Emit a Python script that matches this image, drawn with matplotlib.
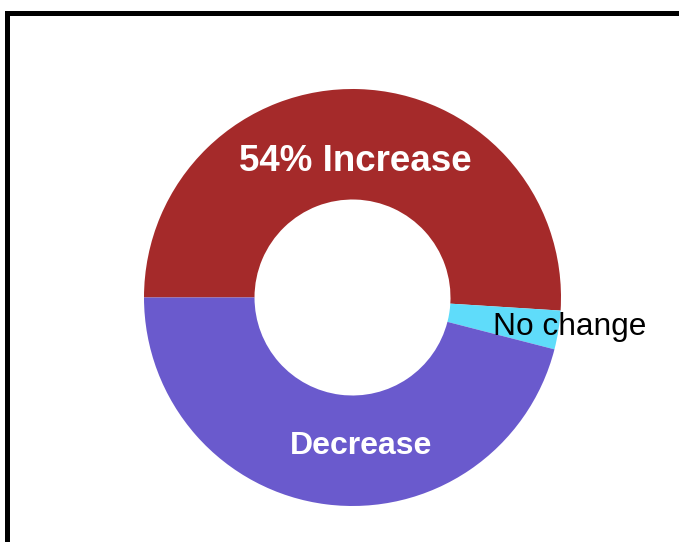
import matplotlib
matplotlib.use("Agg")
import matplotlib.pyplot as plt
from matplotlib.patches import Rectangle

plt.rcParams['font.family'] = ['Liberation Sans', 'DejaVu Sans']

# slice shares
labels = ["Increase", "No change", "Decrease"]
values = [51, 3, 46]
colors = ["#A52A2A", "#5FDCFA", "#6A5ACD"]

W, H = 679, 542
fig = plt.figure(figsize=(W / 100, H / 100), dpi=100)

# frame, cut off at right and bottom like the reference
fig.patches.append(Rectangle((7 / W, -0.1), 1.2, (H - 12.5) / H + 0.1,
                             transform=fig.transFigure, fill=False,
                             edgecolor="black", linewidth=3.6, clip_on=False))

cx, cy, r = 352.5, 297.5, 208.5
ax = fig.add_axes([(cx - r) / W, (H - cy - r) / H, 2 * r / W, 2 * r / H])
wedges, _ = ax.pie(values, colors=colors, startangle=180, counterclock=False,
                   radius=1, wedgeprops=dict(width=0.53, linewidth=0))
ax.set_xlim(-1, 1)
ax.set_ylim(-1, 1)
ax.set_aspect("equal")
ax.axis("off")

ax.text(0.012, 0.652, "54% Increase", color="white", fontsize=26.5,
        fontweight="bold", ha="center", va="center")
ax.text(0.041, -0.713, "Decrease", color="white", fontsize=23,
        fontweight="bold", ha="center", va="center")
ax.text(1.043, -0.142, "No change", color="black", fontsize=22.8,
        ha="center", va="center", clip_on=False)

fig.savefig("out.png", dpi=100)
